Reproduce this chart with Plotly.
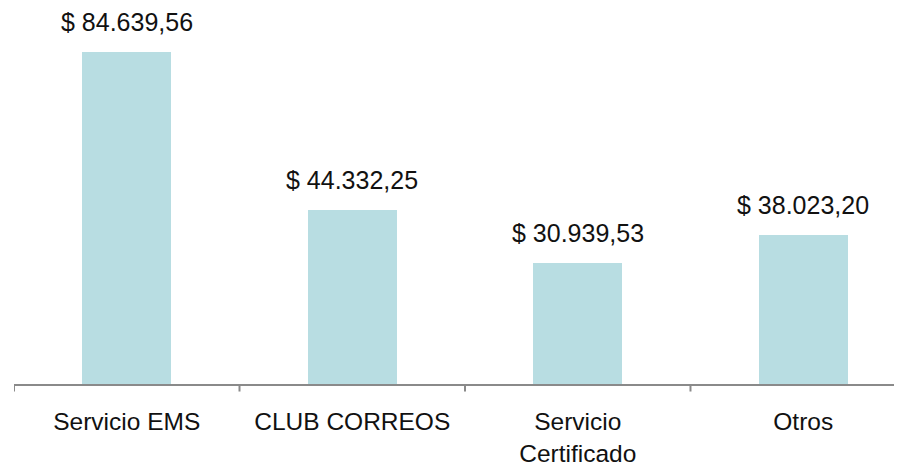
import plotly.graph_objects as go

categories = ["Servicio EMS", "CLUB CORREOS", "Servicio<br>Certificado", "Otros"]
values = [84639.56, 44332.25, 30939.53, 38023.20]
value_labels = ["$ 84.639,56", "$ 44.332,25", "$ 30.939,53", "$ 38.023,20"]

FONT = "Liberation Sans, Arial, Helvetica, sans-serif"

fig = go.Figure()
fig.add_trace(go.Bar(
    x=list(range(len(categories))), y=values,
    marker=dict(color="#b8dde2", line=dict(width=0)),
    width=0.395,
    hoverinfo="skip",
))

for i, (v, t) in enumerate(zip(values, value_labels)):
    fig.add_annotation(x=i, y=v, text=t, showarrow=False,
                       yanchor="bottom", yshift=14,
                       font=dict(family=FONT, size=25, color="#111111"))

# page body has an 8px default margin, so size the figure to fit the window
fig.update_layout(
    width=894, height=459,
    margin=dict(l=6, r=0, t=0, b=83, autoexpand=False),
    paper_bgcolor="white", plot_bgcolor="white",
    showlegend=False,
    bargap=0,
    xaxis=dict(
        tickmode="array", tickvals=list(range(len(categories))), ticktext=categories,
        range=[-0.5, 3.438],
        showline=True, linecolor="#8a8a8a", linewidth=2,
        ticks="", showgrid=False, zeroline=False,
        automargin=False,
        tickfont=dict(family=FONT, size=24.5, color="#111111"),
        ticklabelstandoff=15,
    ),
    yaxis=dict(range=[0, 95845], visible=False, showgrid=False, zeroline=False,
               automargin=False),
)

# boundary tick marks
for b in [-0.5, 0.5, 1.5, 2.5]:
    fig.add_shape(type="line", xref="x", yref="paper", x0=b, x1=b, y0=0, y1=-0.02,
                  line=dict(color="#8a8a8a", width=2))

fig.write_html("out.html")
